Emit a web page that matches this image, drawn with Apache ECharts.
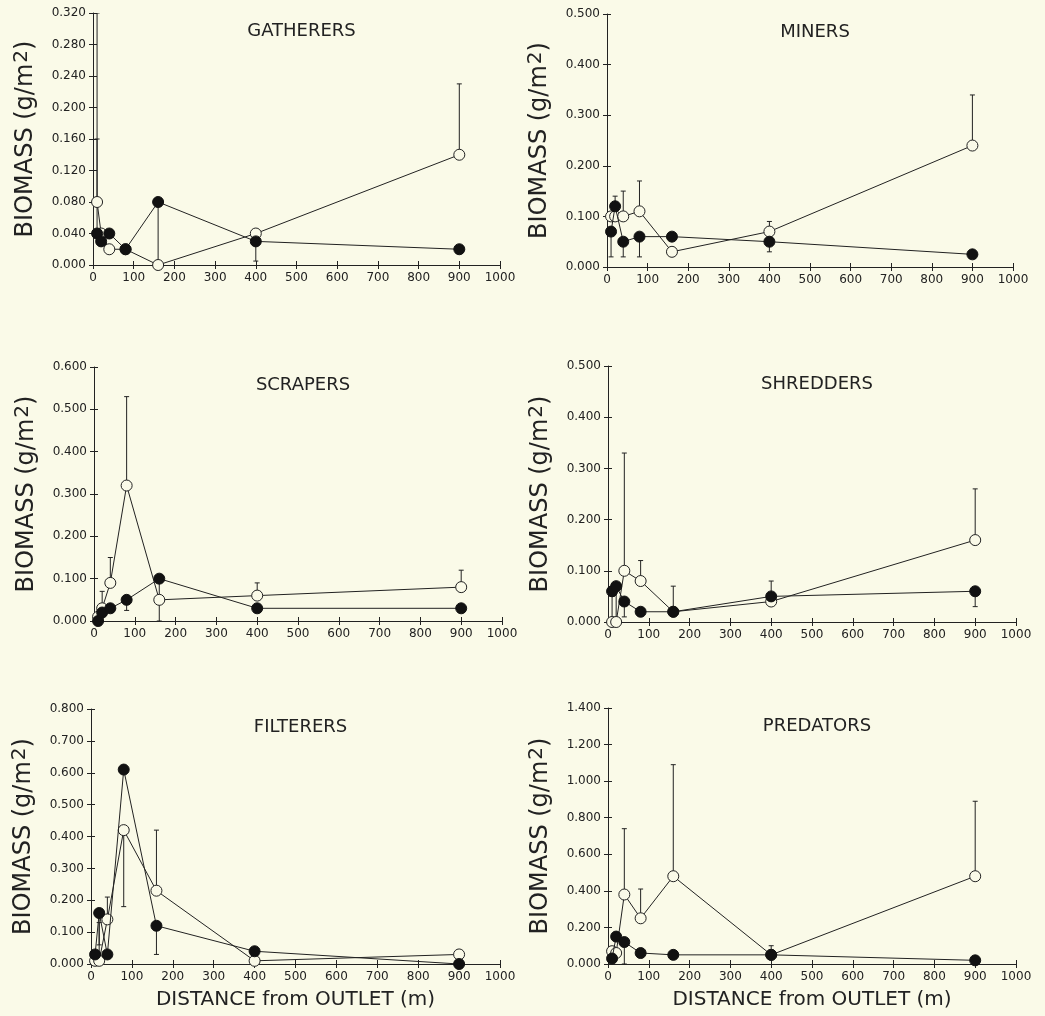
<!DOCTYPE html>
<html>
<head>
<meta charset="utf-8">
<script src="https://cdn.jsdelivr.net/npm/echarts@6/dist/echarts.min.js"></script>
<style>
  html, body { margin: 0; padding: 0; background: #fafae8; }
  #chart { width: 1045px; height: 1016px; }
</style>
</head>
<body>
<div id="chart"></div>
<script>
// ---------------- DATA ----------------
const distances = [10, 20, 40, 80, 160, 400, 900];
const xTicks = { min: 0, max: 1000, interval: 100 };

const gatherersOpen       = [0.08, 0.04, 0.02, 0.02, 0.00, 0.04, 0.14];
const gatherersFilled     = [0.04, 0.03, 0.04, 0.02, 0.08, 0.03, 0.02];
const gatherersOpenErr    = [0.16, null, null, null, null, null, 0.23];
const gatherersFilledErr  = [0.32, null, null, null, 0.00, 0.005, null];

const minersOpen          = [0.10, 0.10, 0.10, 0.11, 0.03, 0.07, 0.24];
const minersFilled        = [0.07, 0.12, 0.05, 0.06, 0.06, 0.05, 0.025];
const minersOpenErr       = [null, null, 0.15, 0.17, null, 0.09, 0.34];
const minersFilledErr     = [0.02, 0.14, 0.02, 0.02, null, 0.03, null];

const scrapersOpen        = [0.01, 0.03, 0.09, 0.32, 0.05, 0.06, 0.08];
const scrapersFilled      = [0.00, 0.02, 0.03, 0.05, 0.10, 0.03, 0.03];
const scrapersOpenErr     = [null, 0.07, 0.15, 0.53, null, 0.09, 0.12];
const scrapersFilledErr   = [null, null, null, 0.025, 0.00, null, null];

const shreddersOpen       = [0.00, 0.00, 0.10, 0.08, 0.02, 0.04, 0.16];
const shreddersFilled     = [0.06, 0.07, 0.04, 0.02, 0.02, 0.05, 0.06];
const shreddersOpenErr    = [0.05, 0.06, 0.33, 0.12, null, null, 0.26];
const shreddersFilledErr  = [null, null, 0.01, null, 0.07, 0.08, 0.03];

const filterersOpen       = [0.01, 0.01, 0.14, 0.42, 0.23, 0.01, 0.03];
const filterersFilled     = [0.03, 0.16, 0.03, 0.61, 0.12, 0.04, 0.00];
const filterersOpenErr    = [null, 0.13, 0.21, 0.18, 0.42, null, null];
const filterersFilledErr  = [null, 0.06, null, null, 0.03, null, null];

const predatorsOpen       = [0.07, 0.06, 0.38, 0.25, 0.48, 0.05, 0.48];
const predatorsFilled     = [0.03, 0.15, 0.12, 0.06, 0.05, 0.05, 0.02];
const predatorsOpenErr    = [null, null, 0.74, 0.41, 1.09, 0.10, 0.89];
const predatorsFilledErr  = [null, null, 0.00, null, null, null, null];

const titles   = ['GATHERERS', 'MINERS', 'SCRAPERS', 'SHREDDERS', 'FILTERERS', 'PREDATORS'];
const yMaxes   = [0.32, 0.5, 0.6, 0.5, 0.8, 1.4];
const yIntervals = [0.04, 0.1, 0.1, 0.1, 0.1, 0.2];
const yTitle = 'BIOMASS (g/m';
const xTitle = 'DISTANCE from OUTLET (m)';

// ---------------- LAYOUT ----------------
const grids = [
  { left: 93,  top: 13,  width: 407, height: 252 },
  { left: 607, top: 14,  width: 406, height: 253 },
  { left: 94,  top: 367, width: 408, height: 254 },
  { left: 608, top: 366, width: 408, height: 256 },
  { left: 91,  top: 709, width: 409, height: 255 },
  { left: 608, top: 708, width: 408, height: 256 }
];
const panelSeries = [
  [gatherersOpen, gatherersFilled, gatherersOpenErr, gatherersFilledErr],
  [minersOpen, minersFilled, minersOpenErr, minersFilledErr],
  [scrapersOpen, scrapersFilled, scrapersOpenErr, scrapersFilledErr],
  [shreddersOpen, shreddersFilled, shreddersOpenErr, shreddersFilledErr],
  [filterersOpen, filterersFilled, filterersOpenErr, filterersFilledErr],
  [predatorsOpen, predatorsFilled, predatorsOpenErr, predatorsFilledErr]
];

const BG = '#fafae8';
const INK = '#222222';
const FONT = 'DejaVu Sans';

function pairs(vals) {
  const out = [];
  distances.forEach((d, i) => { if (vals[i] != null) out.push([d, vals[i]]); });
  return out;
}
function errData(vals, errs) {
  const out = [];
  distances.forEach((d, i) => {
    if (vals[i] != null && errs[i] != null) out.push([d, vals[i], errs[i]]);
  });
  return out;
}
function errSeries(gi, vals, errs) {
  return {
    type: 'custom', xAxisIndex: gi * 2, yAxisIndex: gi * 2, silent: true, z: 1,
    data: errData(vals, errs),
    encode: { x: 0, y: [1, 2] },
    clip: true,
    renderItem: function (params, api) {
      const p0 = api.coord([api.value(0), api.value(1)]);
      const p1 = api.coord([api.value(0), api.value(2)]);
      const c = 2.5;
      const st = { stroke: INK, lineWidth: 1 };
      return {
        type: 'group', children: [
          { type: 'line', shape: { x1: p0[0], y1: p0[1], x2: p1[0], y2: p1[1] }, style: st },
          { type: 'line', shape: { x1: p1[0] - c, y1: p1[1], x2: p1[0] + c, y2: p1[1] }, style: st }
        ]
      };
    }
  };
}

const option = {
  backgroundColor: BG,
  animation: false,
  textStyle: { fontFamily: FONT },
  grid: grids.map(g => Object.assign({ containLabel: false }, g)),
  title: grids.map((g, i) => ({
    text: titles[i],
    left: g.left + g.width / 2,
    top: g.top + 4,
    textAlign: 'center',
    textStyle: { fontFamily: FONT, fontSize: 18, fontWeight: 'normal', color: INK }
  })),
  xAxis: [],
  yAxis: [],
  series: []
};

grids.forEach((g, i) => {
  const lineStyle = { color: INK, width: 1 };
  const bottomRow = i >= 4;
  option.xAxis.push({
    gridIndex: i, type: 'value', position: 'bottom',
    min: xTicks.min, max: xTicks.max, interval: xTicks.interval,
    axisLine: { show: true, onZero: false, lineStyle },
    axisTick: { show: true, length: 4, lineStyle },
    axisLabel: { show: true, fontFamily: FONT, fontSize: 12, color: INK, margin: 7,
      formatter: v => String(v) },
    splitLine: { show: false },
    name: bottomRow ? xTitle : '',
    nameLocation: 'middle', nameGap: 26,
    nameTextStyle: { fontFamily: FONT, fontSize: 20, color: INK }
  });
  option.xAxis.push({
    gridIndex: i, type: 'value', position: 'bottom',
    min: xTicks.min, max: xTicks.max, interval: xTicks.interval,
    axisLine: { show: false, onZero: false },
    axisTick: { show: true, inside: true, length: 4, lineStyle },
    axisLabel: { show: false }, splitLine: { show: false }
  });
  option.yAxis.push({
    gridIndex: i, type: 'value', position: 'left',
    min: 0, max: yMaxes[i], interval: yIntervals[i],
    axisLine: { show: true, onZero: false, lineStyle },
    axisTick: { show: true, length: 4, lineStyle },
    axisLabel: { show: true, fontFamily: FONT, fontSize: 12, color: INK, margin: 7,
      formatter: v => v.toFixed(3) },
    splitLine: { show: false },
    name: '{a|' + yTitle + '}{b|2}{a|)}',
    nameLocation: 'middle', nameRotate: 90, nameGap: 55,
    nameTextStyle: {
      rich: {
        a: { fontFamily: FONT, fontSize: 24, color: INK, lineHeight: 30, verticalAlign: 'bottom' },
        b: { fontFamily: FONT, fontSize: 20, color: INK, lineHeight: 24, verticalAlign: 'bottom',
             padding: [0, 0, 6, 1] }
      }
    }
  });
  option.yAxis.push({
    gridIndex: i, type: 'value', position: 'left',
    min: 0, max: yMaxes[i], interval: yIntervals[i],
    axisLine: { show: false, onZero: false },
    axisTick: { show: true, inside: true, length: 4, lineStyle },
    axisLabel: { show: false }, splitLine: { show: false }
  });

  const [open, filled, openErr, filledErr] = panelSeries[i];
  option.series.push(errSeries(i, open, openErr));
  option.series.push(errSeries(i, filled, filledErr));
  option.series.push({
    type: 'line', xAxisIndex: i * 2, yAxisIndex: i * 2, z: 2,
    data: pairs(open),
    symbol: 'circle', symbolSize: 11, showAllSymbol: true,
    lineStyle: { color: INK, width: 1 },
    itemStyle: { color: BG, borderColor: INK, borderWidth: 1 },
    emphasis: { disabled: true }, clip: false
  });
  option.series.push({
    type: 'line', xAxisIndex: i * 2, yAxisIndex: i * 2, z: 3,
    data: pairs(filled),
    symbol: 'circle', symbolSize: 11, showAllSymbol: true,
    lineStyle: { color: INK, width: 1 },
    itemStyle: { color: '#111111', borderColor: '#111111', borderWidth: 1 },
    emphasis: { disabled: true }, clip: false
  });
});

const chart = echarts.init(document.getElementById('chart'), null, { renderer: 'canvas' });
chart.setOption(option);
</script>
</body>
</html>
